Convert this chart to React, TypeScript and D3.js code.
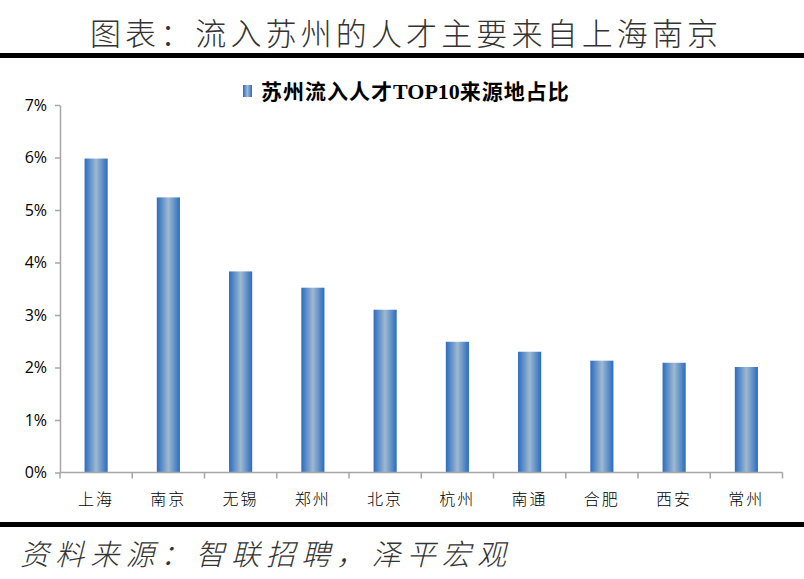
import { useEffect, useRef } from "react";
import * as d3 from "d3";

const cities = ["上海", "南京", "无锡", "郑州", "北京", "杭州", "南通", "合肥", "西安", "常州"];
const shares = [5.98, 5.24, 3.83, 3.52, 3.1, 2.49, 2.3, 2.13, 2.09, 2.01];
const yTicks = [0, 1, 2, 3, 4, 5, 6, 7];

const W = 804;
const H = 579;

export default function App() {
  const ref = useRef<SVGSVGElement>(null);

  useEffect(() => {
    if (!ref.current) return;
    const svg = d3.select(ref.current);
    svg.selectAll("*").remove();

    const left = 60;
    const right = 782.5;
    const top = 105;
    const bottom = 472.5;

    // gradient for the bars
    const defs = svg.append("defs");
    const grad = defs
      .append("linearGradient")
      .attr("id", "barGrad")
      .attr("x1", "0%")
      .attr("x2", "100%")
      .attr("y1", "0%")
      .attr("y2", "0%");
    grad.append("stop").attr("offset", "0%").attr("stop-color", "#2a6cc0");
    grad.append("stop").attr("offset", "50%").attr("stop-color", "#9fb9d0");
    grad.append("stop").attr("offset", "100%").attr("stop-color", "#2a6cc0");

    svg.append("rect").attr("width", W).attr("height", H).attr("fill", "#fff");

    // header
    svg
      .append("text")
      .attr("x", 404)
      .attr("y", 45)
      .attr("text-anchor", "middle")
      .attr("textLength", 628)
      .attr("lengthAdjust", "spacing")
      .style("font-family", "'Noto Sans CJK SC'")
      .style("font-weight", 200)
      .style("font-size", "31px")
      .style("fill", "#333")
      .text("图表：流入苏州的人才主要来自上海南京");

    svg.append("rect").attr("x", 0).attr("y", 53).attr("width", W).attr("height", 5).attr("fill", "#000");
    svg.append("rect").attr("x", 0).attr("y", 522).attr("width", W).attr("height", 5).attr("fill", "#000");

    svg
      .append("text")
      .attr("x", 20)
      .attr("y", 565)
      .attr("textLength", 486)
      .attr("lengthAdjust", "spacing")
      .style("font-family", "'Noto Sans CJK SC'")
      .style("font-weight", 200)
      .style("font-style", "italic")
      .style("font-size", "29px")
      .style("fill", "#333")
      .text("资料来源：智联招聘，泽平宏观");

    // legend
    svg.append("rect").attr("x", 243).attr("y", 85).attr("width", 9).attr("height", 12).attr("fill", "url(#barGrad)");
    const lt = svg
      .append("text")
      .attr("x", 261)
      .attr("y", 99)
      .style("font-family", "'Noto Sans CJK SC'")
      .style("font-weight", 700)
      .style("font-size", "21px")
      .style("letter-spacing", "1px")
      .style("fill", "#000");
    lt.append("tspan").text("苏州流入人才");
    lt.append("tspan").style("font-family", "'Liberation Serif', serif").style("font-size", "22px").style("letter-spacing", "0px").text("TOP10");
    lt.append("tspan").text("来源地占比");

    const x = d3.scaleBand<string>().domain(cities).range([left, right]).paddingInner(0.68).paddingOuter(0.34);
    const y = d3.scaleLinear().domain([0, 7]).range([bottom, top]);

    // bars
    svg
      .append("g")
      .selectAll("rect")
      .data(cities)
      .enter()
      .append("rect")
      .attr("x", (d) => x(d)!)
      .attr("width", x.bandwidth())
      .attr("y", (d, i) => y(shares[i]))
      .attr("height", (d, i) => bottom - y(shares[i]))
      .attr("fill", "url(#barGrad)");

    // y axis
    const yAxis = svg
      .append("g")
      .attr("transform", `translate(${left},0)`)
      .call(d3.axisLeft(y).tickValues(yTicks).tickSize(5).tickSizeOuter(0).tickPadding(8).tickFormat((d) => `${d}%`));
    yAxis.select(".domain").attr("stroke", "#a6a6a6").attr("stroke-width", 1.5);
    yAxis.selectAll(".tick line").attr("stroke", "#a6a6a6").attr("stroke-width", 1.5);
    yAxis
      .selectAll(".tick text")
      .style("font-family", "'Open Sans', 'Liberation Sans', sans-serif")
      .style("font-size", "16px")
      .style("fill", "#000");

    // x axis with ticks at category boundaries
    const xg = svg.append("g").attr("transform", `translate(0,${bottom})`);
    xg.append("line").attr("x1", left).attr("x2", right).attr("stroke", "#a6a6a6").attr("stroke-width", 1.5);
    const step = x.step();
    const bounds = d3.range(cities.length + 1).map((i) => left + i * step);
    xg.selectAll("line.tk")
      .data(bounds)
      .enter()
      .append("line")
      .attr("class", "tk")
      .attr("x1", (d) => d)
      .attr("x2", (d) => d)
      .attr("y1", 0)
      .attr("y2", 6)
      .attr("stroke", "#a6a6a6")
      .attr("stroke-width", 1.5);
    xg.selectAll("text")
      .data(cities)
      .enter()
      .append("text")
      .attr("x", (d) => x(d)! + x.bandwidth() / 2)
      .attr("y", 32)
      .attr("text-anchor", "middle")
      .style("font-family", "'Noto Sans CJK SC'")
      .style("font-weight", 300)
      .style("font-size", "16px")
      .style("letter-spacing", "2px")
      .style("fill", "#000")
      .text((d) => d);
  }, []);

  return (
    <svg
      ref={ref}
      width={W}
      height={H}
      style={{ position: "absolute", left: 0, top: 0, display: "block" }}
    />
  );
}
